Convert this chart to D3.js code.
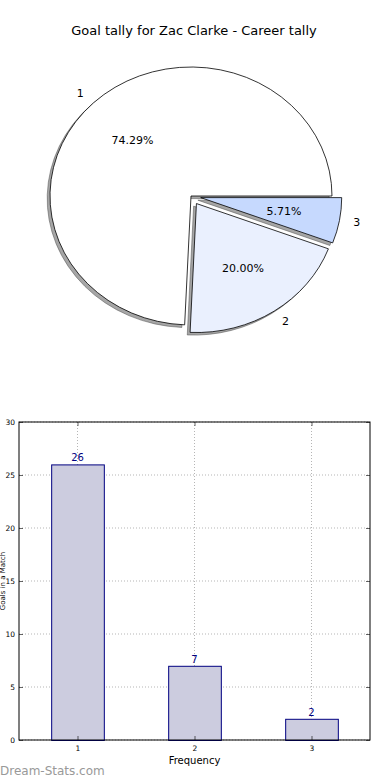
<!DOCTYPE html>
<html>
<head>
<meta charset="utf-8">
<script src="https://cdn.jsdelivr.net/npm/d3@7"></script>
<style>
  body { margin: 0; background: #fff; }
  text { font-family: "DejaVu Sans", sans-serif; }
</style>
</head>
<body>
<svg id="chart" width="390" height="780"></svg>
<script>
// data
const title = "Goal tally for Zac Clarke - Career tally";
const pieLabels = ["1", "2", "3"];
const pieValues = [26, 7, 2];
const pieColors = ["#ffffff", "#eaf0fe", "#c6d9fe"];

const barCategories = [1, 2, 3];
const barValues = [26, 7, 2];
const yTicks = [0, 5, 10, 15, 20, 25, 30];
const xLabel = "Frequency";
const yLabel = "Goals in a Match";

const svg = d3.select("#chart");

// title
svg.append("text")
  .attr("x", 194)
  .attr("y", 35)
  .attr("text-anchor", "middle")
  .style("font-size", "13px")
  .text(title);

// ---------- pie ----------
const cx = 191, cy = 196, rx = 141, ry = 129;
const px = d3.scaleLinear().domain([-1, 1]).range([cx - rx, cx + rx]);
const py = d3.scaleLinear().domain([-1, 1]).range([cy + ry, cy - ry]);
const explode = [0, 0.07, 0.07];

// matplotlib starts at 3 o'clock and goes counter-clockwise
const pie = d3.pie().sort(null).startAngle(Math.PI / 2).endAngle(Math.PI / 2 - 2 * Math.PI);
const arcs = pie(pieValues);
const arc = d3.arc().innerRadius(0).outerRadius(1);
const total = d3.sum(pieValues);

// mid angle in matplotlib terms (radians, CCW from east)
const midMpl = (d) => Math.PI / 2 - (d.startAngle + d.endAngle) / 2;

const pieG = svg.append("g");

function wedgeOrigin(d, i) {
  const t = midMpl(d);
  return [Math.cos(t) * explode[i], Math.sin(t) * explode[i]];
}

// shadows
pieG.append("g")
  .selectAll("path")
  .data(arcs)
  .join("path")
  .attr("transform", (d, i) => {
    const [ox, oy] = wedgeOrigin(d, i);
    return `translate(${px(ox - 0.02)},${py(oy - 0.02)}) scale(${rx},${ry})`;
  })
  .attr("d", arc)
  .attr("fill", "rgb(77,77,77)")
  .attr("fill-opacity", 0.5)
  .attr("stroke", "rgb(77,77,77)")
  .attr("stroke-opacity", 0.5)
  .attr("stroke-width", 1)
  .attr("vector-effect", "non-scaling-stroke");

// wedges
pieG.append("g")
  .selectAll("path")
  .data(arcs)
  .join("path")
  .attr("transform", (d, i) => {
    const [ox, oy] = wedgeOrigin(d, i);
    return `translate(${px(ox)},${py(oy)}) scale(${rx},${ry})`;
  })
  .attr("d", arc)
  .attr("fill", (d, i) => pieColors[i])
  .attr("stroke", "#000")
  .attr("stroke-width", 0.8)
  .attr("stroke-linejoin", "miter")
  .attr("vector-effect", "non-scaling-stroke");

// labels
arcs.forEach((d, i) => {
  const t = midMpl(d);
  const [ox, oy] = wedgeOrigin(d, i);
  const lx = ox + 1.1 * Math.cos(t);
  const ly = oy + 1.1 * Math.sin(t);
  svg.append("text")
    .attr("x", px(lx))
    .attr("y", py(ly))
    .attr("text-anchor", lx > 0 ? "start" : "end")
    .attr("dominant-baseline", "central")
    .style("font-size", "11px")
    .text(pieLabels[i]);
  svg.append("text")
    .attr("x", px(ox + 0.6 * Math.cos(t)))
    .attr("y", py(oy + 0.6 * Math.sin(t)))
    .attr("text-anchor", "middle")
    .attr("dominant-baseline", "central")
    .style("font-size", "11px")
    .text((100 * pieValues[i] / total).toFixed(2) + "%");
});

// ---------- bar chart ----------
const bx0 = 19, bx1 = 370, by0 = 422, by1 = 740;
const x = d3.scaleLinear().domain([0.5, 3.5]).range([bx0, bx1]);
const y = d3.scaleLinear().domain([0, 30]).range([by1, by0]);
const barW = 0.45;

const barG = svg.append("g");

// grid
barG.append("g")
  .selectAll("line")
  .data(yTicks)
  .join("line")
  .attr("x1", bx0).attr("x2", bx1)
  .attr("y1", (d) => y(d)).attr("y2", (d) => y(d))
  .attr("stroke", "#b5b5b5")
  .attr("stroke-width", 1)
  .attr("stroke-dasharray", "1,2");
barG.append("g")
  .selectAll("line")
  .data(barCategories)
  .join("line")
  .attr("x1", (d) => x(d)).attr("x2", (d) => x(d))
  .attr("y1", by0).attr("y2", by1)
  .attr("stroke", "#b5b5b5")
  .attr("stroke-width", 1)
  .attr("stroke-dasharray", "1,2");

// bars
barG.append("g")
  .selectAll("rect")
  .data(barValues)
  .join("rect")
  .attr("x", (d, i) => x(barCategories[i] - barW / 2) + 0.5)
  .attr("width", (d, i) => x(barCategories[i] + barW / 2) - x(barCategories[i] - barW / 2))
  .attr("y", (d) => y(d) + 0.5)
  .attr("height", (d) => y(0) - y(d))
  .attr("fill", "#ccccdf")
  .attr("stroke", "#000080")
  .attr("stroke-width", 1);

// bar value labels
barG.append("g")
  .selectAll("text")
  .data(barValues)
  .join("text")
  .attr("x", (d, i) => x(barCategories[i]))
  .attr("y", (d) => y(d) - 3)
  .attr("text-anchor", "middle")
  .attr("fill", "#000080")
  .style("font-size", "10px")
  .text((d) => d);

// axes (inward ticks on all sides)
const axisL = d3.axisLeft(y).tickValues(yTicks).tickSizeInner(-4).tickSizeOuter(0).tickPadding(4);
const axisR = d3.axisRight(y).tickValues(yTicks).tickSizeInner(-4).tickSizeOuter(0).tickFormat("");
const axisB = d3.axisBottom(x).tickValues(barCategories).tickSizeInner(-4).tickSizeOuter(0).tickPadding(6).tickFormat(d3.format("d"));
const axisT = d3.axisTop(x).tickValues(barCategories).tickSizeInner(-4).tickSizeOuter(0).tickFormat("");

const styleAxis = (g) => {
  g.select(".domain").remove();
  g.selectAll(".tick line").attr("stroke", "#000").attr("stroke-width", 0.6);
  g.selectAll(".tick text").style("font-family", "DejaVu Sans").style("font-size", "7.5px").attr("fill", "#000");
};

barG.append("g").attr("transform", `translate(${bx0},0)`).call(axisL).call(styleAxis);
barG.append("g").attr("transform", `translate(${bx1},0)`).call(axisR).call(styleAxis);
barG.append("g").attr("transform", `translate(0,${by1})`).call(axisB).call(styleAxis);
barG.append("g").attr("transform", `translate(0,${by0})`).call(axisT).call(styleAxis);

// frame
barG.append("rect")
  .attr("x", bx0).attr("y", by0)
  .attr("width", bx1 - bx0).attr("height", by1 - by0)
  .attr("fill", "none")
  .attr("stroke", "#000")
  .attr("stroke-width", 1);

// axis labels
svg.append("text")
  .attr("x", (bx0 + bx1) / 2)
  .attr("y", 764)
  .attr("text-anchor", "middle")
  .style("font-size", "10px")
  .text(xLabel);

svg.append("text")
  .attr("transform", `translate(5,${(by0 + by1) / 2}) rotate(-90)`)
  .attr("text-anchor", "middle")
  .style("font-size", "7px")
  .text(yLabel);

// watermark
svg.append("text")
  .attr("x", 0)
  .attr("y", 775)
  .attr("fill", "#999")
  .style("font-size", "12px")
  .text("Dream-Stats.com");
</script>
</body>
</html>
